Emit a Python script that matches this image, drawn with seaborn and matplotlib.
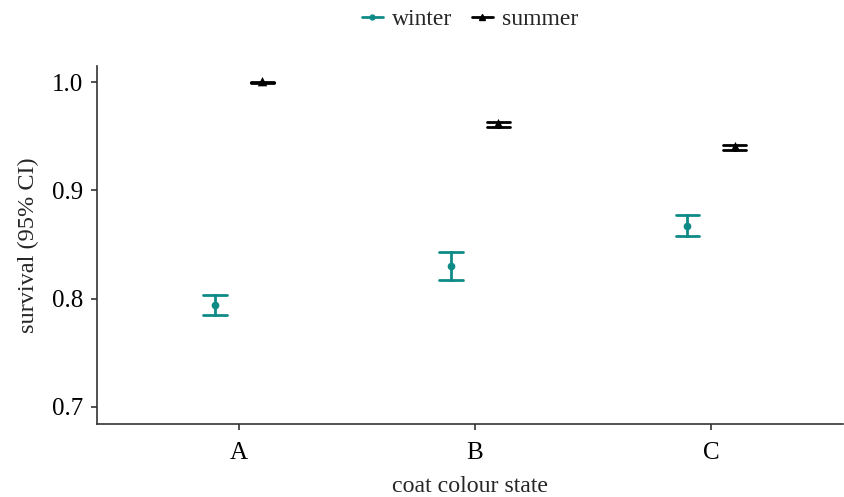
import matplotlib
matplotlib.use("Agg")
import matplotlib.pyplot as plt
from matplotlib.lines import Line2D
import pandas as pd
import seaborn as sns

# Survival estimates with 95% confidence limits per coat colour state
states = ["A", "B", "C"]
seasons = ["winter", "summer"]
winter_mean = [0.794, 0.830, 0.867]
winter_lo = [0.785, 0.817, 0.858]
winter_hi = [0.803, 0.843, 0.877]
summer_mean = [1.000, 0.961, 0.940]
summer_lo = [0.999, 0.959, 0.937]
summer_hi = [1.000, 0.963, 0.942]

colors = {"winter": "#0f8b87", "summer": "#000000"}

# Long table: each group holds (lower, estimate, upper); the median gives the
# estimate and the full percentile interval gives the confidence limits.
rows = []
for season, lo, mid, hi in [("winter", winter_lo, winter_mean, winter_hi),
                            ("summer", summer_lo, summer_mean, summer_hi)]:
    for s, a, m, b in zip(states, lo, mid, hi):
        for v in (a, m, b):
            rows.append({"state": s, "season": season, "survival": v})
df = pd.DataFrame(rows)

sns.set_theme(style="ticks")
plt.rcParams["font.family"] = ["Liberation Serif", "DejaVu Serif"]

fig = plt.figure(figsize=(8.44, 4.97), dpi=100)
ax = fig.add_axes([0.115, 0.147, 0.884, 0.72])

sns.pointplot(
    data=df, x="state", y="survival", hue="season",
    order=states, hue_order=seasons, palette=colors,
    estimator="median", errorbar=("pi", 100),
    dodge=0.2, linestyle="none", markers=["o", "^"],
    markersize=3.5, capsize=0.1, err_kws={"linewidth": 2.0},
    legend=False, ax=ax,
)

ax.set_ylim(0.6843, 1.0148)
ax.set_xlim(-0.6, 2.56)
ax.set_yticks([0.7, 0.8, 0.9, 1.0])
ax.set_yticklabels(["0.7", "0.8", "0.9", "1.0"])
ax.set_xlabel("coat colour state", fontsize=17.2, labelpad=9)
ax.set_ylabel("survival (95% CI)", fontsize=17.5, labelpad=9)
ax.tick_params(axis="both", labelsize=18, length=4, width=1.2,
               color="#333333", labelcolor="black")
ax.tick_params(axis="x", pad=9)
ax.tick_params(axis="y", pad=6)
for side in ("top", "right"):
    ax.spines[side].set_visible(False)
for side in ("left", "bottom"):
    ax.spines[side].set_color("#333333")
    ax.spines[side].set_linewidth(1.2)

handles = [
    Line2D([], [], color=colors["winter"], marker="o", markersize=3.5,
           linewidth=2),
    Line2D([], [], color=colors["summer"], marker="^", markersize=5,
           linewidth=2),
]
fig.legend(handles, seasons, loc="upper center", bbox_to_anchor=(0.557, 1.025),
           ncol=2, frameon=False, fontsize=17, handlelength=0.9,
           handletextpad=0.4, columnspacing=0.8)

fig.savefig("out.png", dpi=100)
